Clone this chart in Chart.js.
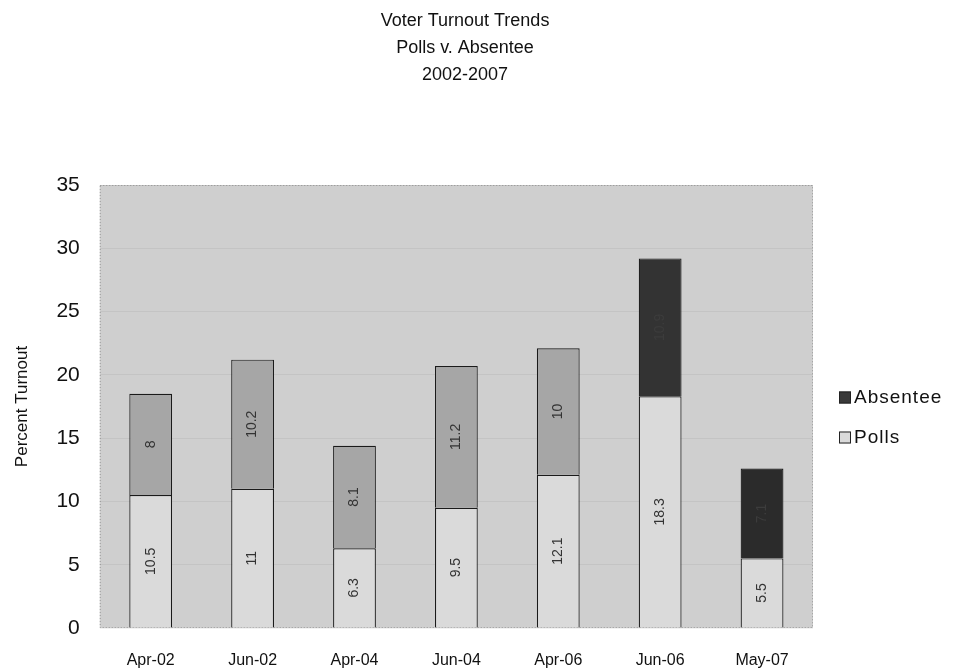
<!DOCTYPE html>
<html>
<head>
<meta charset="utf-8">
<script src="https://cdn.jsdelivr.net/npm/chart.js@4.4.1/dist/chart.umd.min.js"></script>
<style>
  html, body { margin: 0; padding: 0; background: #fff; }
  #wrap { width: 976px; height: 672px; position: relative; }
</style>
</head>
<body>
<div id="wrap"><canvas id="chartTurnout"></canvas></div>
<script>
// ---------- datos ----------
const fechas = ['Apr-02', 'Jun-02', 'Apr-04', 'Jun-04', 'Apr-06', 'Jun-06', 'May-07'];
const polls = [10.5, 11, 6.3, 9.5, 12.1, 18.3, 5.5];
const absentee = [8, 10.2, 8.1, 11.2, 10, 10.9, 7.1];
const ticksY = [0, 5, 10, 15, 20, 25, 30, 35];

const colPolls = '#dadada';
const colAbs = ['#a6a6a6', '#a6a6a6', '#a6a6a6', '#a6a6a6', '#a6a6a6', '#333333', '#2b2b2b'];
const oscuras = [false, false, false, false, false, true, true];
const FONT = '"Liberation Sans", Arial, sans-serif';

// fondo gris del area de trazado
const fondoPlot = {
    id: 'fondoPlot',
    beforeDraw(chart) {
        const { ctx, chartArea: a } = chart;
        ctx.save();
        ctx.fillStyle = '#cfcfcf';
        ctx.fillRect(a.left, a.top, a.right - a.left, a.bottom - a.top);
        ctx.strokeStyle = '#9a9a9a';
        ctx.setLineDash([1, 2]);
        ctx.strokeRect(a.left + 0.5, a.top + 0.5, a.right - a.left - 1, a.bottom - a.top - 1);
        ctx.restore();
    }
};

// etiquetas de valor, giradas, dentro de cada segmento
const etiquetas = {
    id: 'etiquetas',
    afterDatasetsDraw(chart) {
        const { ctx } = chart;
        ctx.save();
        ctx.font = '14px ' + FONT;
        ctx.textAlign = 'center';
        ctx.textBaseline = 'middle';
        chart.data.datasets.forEach((ds, di) => {
            const meta = chart.getDatasetMeta(di);
            meta.data.forEach((bar, i) => {
                const cy = (bar.y + bar.base) / 2;
                ctx.fillStyle = (di === 1 && oscuras[i]) ? '#3c3c3c' : '#333';
                ctx.save();
                ctx.translate(bar.x, cy);
                ctx.rotate(-Math.PI / 2);
                ctx.fillText(String(ds.data[i]), 0, 0);
                ctx.restore();
            });
        });
        ctx.restore();
    }
};

// leyenda a la derecha (Absentee arriba, Polls abajo)
const leyenda = {
    id: 'leyenda',
    afterDraw(chart) {
        const { ctx, chartArea: a } = chart;
        const items = [
            { text: 'Absentee', fill: '#3a3a3a' },
            { text: 'Polls', fill: colPolls }
        ];
        const x0 = a.right + 26;
        const yMid = (a.top + a.bottom) / 2 + 11;
        ctx.save();
        ctx.font = '19px ' + FONT;
        ctx.letterSpacing = '1px';
        ctx.textBaseline = 'middle';
        items.forEach((it, k) => {
            const y = yMid + (k - 0.5) * 40;
            ctx.fillStyle = it.fill;
            ctx.fillRect(x0, y - 6, 12, 12);
            ctx.strokeStyle = '#222';
            ctx.lineWidth = 1;
            ctx.strokeRect(x0 + 0.5, y - 5.5, 11, 11);
            ctx.fillStyle = '#111';
            ctx.fillText(it.text, x0 + 15, y);
        });
        ctx.restore();
    }
};

new Chart(document.getElementById('chartTurnout'), {
    type: 'bar',
    data: {
        labels: fechas,
        datasets: [
            { label: 'Polls', data: polls, backgroundColor: colPolls, borderColor: '#1a1a1a', borderWidth: 1.2, barPercentage: 0.42, categoryPercentage: 1 },
            { label: 'Absentee', data: absentee, backgroundColor: colAbs, borderColor: '#1a1a1a', borderWidth: 1.2, barPercentage: 0.42, categoryPercentage: 1 }
        ]
    },
    options: {
        responsive: true, maintainAspectRatio: false,
        animation: false,
        devicePixelRatio: 1,
        layout: { padding: { left: 0, right: 46, top: 0, bottom: 0 } },
        plugins: {
            title: {
                display: true,
                text: ['Voter Turnout Trends', 'Polls v. Absentee', '2002-2007'],
                color: '#111',
                font: { family: FONT, size: 18, weight: 'normal', lineHeight: 1.5 },
                padding: { top: 8, bottom: 96 }
            },
            legend: { display: false },
            tooltip: { enabled: false }
        },
        scales: {
            x: {
                stacked: true,
                grid: { display: false, drawTicks: false },
                border: { display: false },
                ticks: { color: '#111', font: { family: FONT, size: 16 }, padding: 23, maxRotation: 0 },
                afterFit: (axis) => { axis.height = 44; }
            },
            y: {
                stacked: true,
                min: 0, max: 35,
                afterBuildTicks: (axis) => { axis.ticks = ticksY.map(v => ({ value: v })); },
                grid: { color: 'rgba(0,0,0,0.05)', drawTicks: false },
                border: { display: false },
                ticks: { color: '#111', font: { family: FONT, size: 21 }, padding: 20 },
                title: { display: true, text: 'Percent Turnout', color: '#111', font: { family: FONT, size: 17 }, padding: { top: 12, bottom: 4 } }
            },
            // eje vacio a la derecha: deja lugar para la leyenda
            yLeyenda: {
                position: 'right',
                display: true,
                grid: { display: false, drawTicks: false },
                border: { display: false },
                ticks: { display: false },
                afterFit: (axis) => { axis.width = 117; }
            }
        }
    },
    plugins: [fondoPlot, etiquetas, leyenda]
});
</script>
</body>
</html>
